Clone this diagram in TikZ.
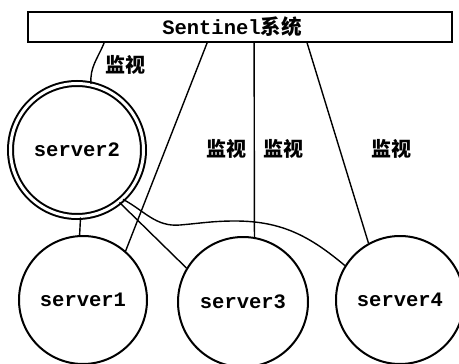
\documentclass[tikz,border=0pt]{standalone}
\usepackage{fontspec}
\setmonofont{Liberation Mono}
\newfontfamily\cjk{Noto Sans CJK SC}
\usetikzlibrary{calc}
\begin{document}
\begin{tikzpicture}[x=1pt,y=-1pt,
  srv/.style={circle,draw,line width=2pt,inner sep=0pt,minimum size=128pt,
    font=\ttfamily\bfseries\fontsize{20.5}{24}\selectfont},
  lbl/.style={font=\cjk\bfseries\fontsize{20}{24}\selectfont,inner sep=0pt},
  conn/.style={line width=1.4pt}]
\useasboundingbox (0,0) rectangle (459,364);
\fill[white] (0,0) rectangle (459,364);
% Sentinel box
\node[draw,line width=1.8pt,minimum width=424pt,minimum height=30pt,inner sep=0pt] (sent) at (240,27) {};
\node[inner sep=0pt,font=\ttfamily\bfseries\fontsize{20.5}{24}\selectfont] (senttxt) at (232,27) {Sentinel{\cjk\bfseries 系统}};
% servers
\node[srv,double,double distance=3pt,minimum size=133pt] (s2) at (77,150) {server2};
\node[srv] (s1) at (83,300) {server1};
\node[srv,minimum size=130pt] (s3) at (243,302) {server3};
\node[srv] (s4) at (400,300) {server4};
% connectors from Sentinel
\draw[conn] ($(sent.south west)+(77,0)$) to[out=-112,in=95] (s2.78);
\draw[conn] ($(sent.south west)+(180,0)$) -- (s1.49);
\draw[conn] ($(sent.south west)+(227,0)$) -- (s3.80);
\draw[conn] ($(sent.south west)+(280,0)$) -- (s4.119);
% connectors from server2
\draw[conn] (s2.-87.5) -- (s1.93);
\draw[conn] (s2.-51) -- (s3.149);
\draw[conn] (s2.-47) to[out=-28,in=185] (180,225) to[out=5,in=180] (235,221) to[out=0,in=140] (s4.148);
% labels
\node[lbl] (l0) at (126,65) {监视};
\node[lbl] (l1) at (226,149) {监视};
\node[lbl] (l2) at (283,149) {监视};
\node[lbl] (l3) at (391,149) {监视};
\end{tikzpicture}
\end{document}
